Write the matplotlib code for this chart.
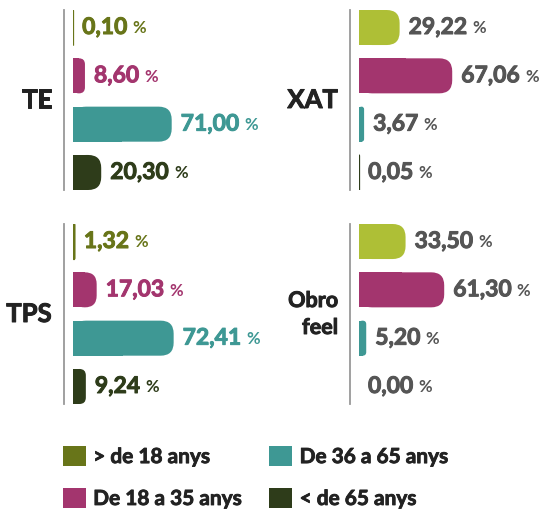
import matplotlib
matplotlib.use('Agg')
import matplotlib.pyplot as plt
import matplotlib.patheffects as pe
from matplotlib.patches import FancyBboxPatch, Rectangle, Patch

plt.rcParams['font.family'] = ['Lato', 'DejaVu Sans']

# data
groups = ['> de 18 anys', 'De 18 a 35 anys', 'De 36 a 65 anys', '< de 65 anys']
panel_names = ['TE', 'XAT', 'TPS', 'Obro\nfeel']
te_vals = [0.10, 8.60, 71.00, 20.30]
xat_vals = [29.22, 67.06, 3.67, 0.05]
tps_vals = [1.32, 17.03, 72.41, 9.24]
obro_vals = [33.50, 61.30, 5.20, 0.00]

OLIVE = '#687519'
LIME = '#AEBF36'
MAGENTA = '#A3356E'
TEAL = '#3E9894'
DARK = '#2E3C1A'
GRAY = '#555555'

legend_colors = [OLIVE, MAGENTA, TEAL, DARK]

W, H = 551, 514
fig = plt.figure(figsize=(W / 100, H / 100), dpi=100)

PX_PER_PCT = 1.39
AX_W, AX_H = 190, 180
BAR_H = 0.725
RADIUS_PX = 13


def heavy(color, w=0.7):
    # thicken Lato Bold a bit, the original font is heavier
    return [pe.withStroke(linewidth=w, foreground=color)]


def draw_panel(left, top, name, values, bar_colors, text_colors, name_size=18.5):
    ax = fig.add_axes([left / W, 1 - (top + AX_H) / H, AX_W / W, AX_H / H])
    ax.set_xlim(0, AX_W / PX_PER_PCT)
    n = len(values)
    ax.set_ylim(n - 1 + BAR_H / 2, -BAR_H / 2)
    sy = AX_H / (n - 1 + BAR_H)
    aspect = PX_PER_PCT / sy
    r_full = RADIUS_PX / PX_PER_PCT

    for i, v in enumerate(values):
        c = bar_colors[i]
        if v > 0:
            r = min(r_full, v / 2)
            lw = 0.9 if v * PX_PER_PCT < 2 else 0
            box = FancyBboxPatch((0, i - BAR_H / 2), v, BAR_H,
                                 boxstyle=f'round,pad=0,rounding_size={r}',
                                 mutation_aspect=aspect, facecolor=c,
                                 edgecolor=c, linewidth=lw)
            ax.add_patch(box)
            ax.add_patch(Rectangle((0, i - BAR_H / 2), v / 2, BAR_H,
                                   facecolor=c, edgecolor=c, linewidth=lw))
        tc = text_colors[i]
        t = ax.annotate(f'{v:.2f}'.replace('.', ','), xy=(v, i), xytext=(9, 0),
                        textcoords='offset pixels', ha='left', va='center',
                        fontsize=16.5, fontweight='bold', color=tc,
                        path_effects=heavy(tc))
        ax.annotate('%', xy=(1, 0.22), xycoords=t, xytext=(5, 0),
                    textcoords='offset pixels', ha='left', va='baseline',
                    fontsize=12, fontweight='bold', color=tc)

    ax.annotate(name, xy=(0, 0.5), xycoords='axes fraction', xytext=(-21, 0),
                textcoords='offset pixels', ha='right', va='center',
                multialignment='right', linespacing=1.35,
                fontsize=name_size, fontweight='bold', color='#222222',
                path_effects=heavy('#222222'))

    for s in ['top', 'right', 'bottom']:
        ax.spines[s].set_visible(False)
    ax.spines['left'].set_position(('outward', 6.5))
    ax.spines['left'].set_color('#999999')
    ax.spines['left'].set_linewidth(1.3)
    ax.set_xticks([])
    ax.set_yticks([])
    ax.patch.set_visible(False)
    return ax


colored = [OLIVE, MAGENTA, TEAL, DARK]
right_bars = [LIME, MAGENTA, TEAL, DARK]
grays = [GRAY] * 4

draw_panel(73, 10, panel_names[0], te_vals, colored, colored)
draw_panel(359, 10, panel_names[1], xat_vals, right_bars, grays)
draw_panel(73, 224, panel_names[2], tps_vals, colored, colored)
draw_panel(359, 224, panel_names[3], obro_vals, right_bars, grays, name_size=15.5)

handles = [Patch(facecolor=c, edgecolor='none') for c in legend_colors]
leg = fig.legend(handles, groups, loc='upper left', ncol=2, frameon=False,
                 bbox_to_anchor=(63 / W, 1 - 446 / H), borderpad=0, borderaxespad=0,
                 handlelength=1.1, handleheight=1.1, handletextpad=0.35,
                 columnspacing=1.3, labelspacing=1.0,
                 prop={'family': ['Lato', 'DejaVu Sans'], 'weight': 'bold', 'size': 15})
for txt in leg.get_texts():
    txt.set_color('#222222')
    txt.set_path_effects(heavy('#222222', 0.6))

fig.savefig('out.png', dpi=100)
